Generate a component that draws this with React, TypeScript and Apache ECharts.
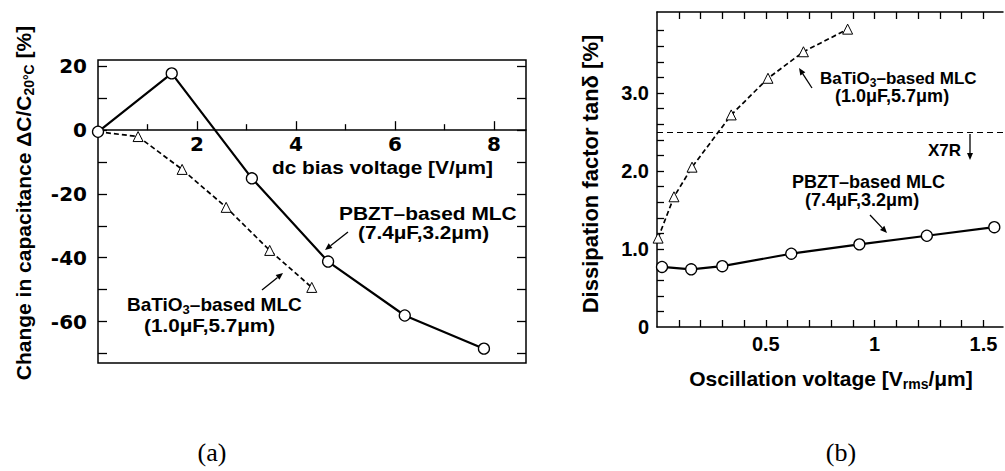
import { useEffect, useRef } from "react";
import * as echarts from "echarts";

// (a) capacitance change vs. dc bias field
const biasPbztX = [0, 1.49, 3.11, 4.65, 6.2, 7.8];
const biasPbztY = [-0.5, 17.8, -15.1, -41.2, -58.1, -68.5];
const biasBatX = [0, 0.81, 1.7, 2.59, 3.47, 4.32];
const biasBatY = [-0.5, -2.0, -12.3, -24.2, -37.7, -49.3];

// (b) dissipation factor vs. oscillation voltage
const oscPbztX = [0.023, 0.157, 0.3, 0.617, 0.93, 1.24, 1.55];
const oscPbztY = [0.77, 0.74, 0.78, 0.94, 1.06, 1.17, 1.28];
const oscBatX = [0.005, 0.078, 0.161, 0.341, 0.51, 0.673, 0.876];
const oscBatY = [1.14, 1.67, 2.05, 2.72, 3.19, 3.53, 3.82];
const x7rLimit = 2.5;

// axis ranges, ticks and labels
const capMin = -73;
const capMax = 22;
const biasMax = 8.65;
const biasMajorTicks = [2, 4, 6, 8];
const biasMinorTicks = [1, 3, 5, 7];
const capTicks = [-70, -60, -50, -40, -30, -20, -10, 0, 10, 20];
const capLabels = [-60, -40, -20, 0, 20];
const oscMax = 1.59;
const dfMax = 4.04;
const oscTicks = [0.1, 0.2, 0.3, 0.4, 0.5, 0.6, 0.7, 0.8, 0.9, 1.0, 1.1, 1.2, 1.3, 1.4, 1.5];
const oscLabels = [0.5, 1, 1.5];
const dfTicks = [0.2, 0.4, 0.6, 0.8, 1.0, 1.2, 1.4, 1.6, 1.8, 2.0, 2.2, 2.4, 2.6, 2.8, 3.0, 3.2, 3.4, 3.6, 3.8];
const dfLabels = [0, 1, 2, 3];

const SANS = "Liberation Sans";
const WIDE = "DejaVu Sans";
const SERIF = "Liberation Serif";

// plot frame of panel (a)
const gridA = { left: 98, top: 60, width: 428, height: 303 };
// the bias axis runs along capacitance change = 0, inside the frame
const zeroOffset = -gridA.height * ((0 - capMin) / (capMax - capMin));

const zip = (xs: number[], ys: number[]) => xs.map((x, i) => [x, ys[i]]);

function arrow(x1: number, y1: number, x2: number, y2: number) {
  const dx = x2 - x1;
  const dy = y2 - y1;
  const len = Math.hypot(dx, dy);
  const ux = dx / len;
  const uy = dy / len;
  const hl = 7;
  const hw = 3;
  const bx = x2 - ux * hl;
  const by = y2 - uy * hl;
  return [
    { type: "line", shape: { x1, y1, x2: bx, y2: by }, style: { stroke: "#000", lineWidth: 1.3 } },
    {
      type: "polygon",
      shape: { points: [[x2, y2], [bx - uy * hw, by + ux * hw], [bx + uy * hw, by - ux * hw]] },
      style: { fill: "#000" },
    },
  ];
}

function label(text: string, x: number, y: number, size: number, family: string, scaleX = 1, rich?: any) {
  return {
    type: "text",
    x,
    y,
    scaleX,
    style: {
      text,
      fontSize: size,
      fontWeight: "bold",
      fontFamily: family,
      fill: "#000",
      align: "left",
      verticalAlign: "middle",
      rich,
    },
  };
}

function subRich(size: number, family: string) {
  return {
    m: { fontSize: size, fontWeight: "bold", fontFamily: family, lineHeight: size + 4, verticalAlign: "middle" },
    s: { fontSize: Math.round(size * 0.68), fontWeight: "bold", fontFamily: family, verticalAlign: "bottom" },
  };
}

export default function App() {
  const ref = useRef<HTMLDivElement>(null);

  useEffect(() => {
    if (!ref.current) return;
    const chart = echarts.init(ref.current, null, { renderer: "svg" });

    const tickStyle = { color: "#000", width: 1.3 };

    const option: any = {
      animation: false,
      backgroundColor: "#fff",
      grid: [
        { ...gridA, show: true, borderColor: "#000", borderWidth: 1.5, backgroundColor: "transparent" },
        { left: 657, top: 12, width: 346, height: 315, show: false },
      ],
      xAxis: [
        {
          gridIndex: 0, type: "value", min: 0, max: biasMax, position: "bottom", offset: zeroOffset,
          axisLine: { show: true, onZero: false, lineStyle: { color: "#000", width: 1.5 } },
          axisTick: { show: true, inside: true, length: 9, customValues: biasMajorTicks, lineStyle: tickStyle },
          axisLabel: { show: true, customValues: biasMajorTicks, margin: 4, color: "#000", fontSize: 20, fontWeight: "bold", fontFamily: WIDE },
          splitLine: { show: false },
        },
        {
          gridIndex: 0, type: "value", min: 0, max: biasMax, position: "bottom", offset: zeroOffset,
          axisLine: { show: false, onZero: false },
          axisTick: { show: true, inside: true, length: 6, customValues: biasMinorTicks, lineStyle: tickStyle },
          axisLabel: { show: false },
          splitLine: { show: false },
        },
        {
          gridIndex: 1, type: "value", min: 0, max: oscMax, position: "bottom",
          axisLine: { show: true, onZero: false, lineStyle: { color: "#000", width: 1.5 } },
          axisTick: { show: true, inside: true, length: 7, customValues: oscTicks, lineStyle: tickStyle },
          axisLabel: { show: true, customValues: oscLabels, margin: 7, color: "#000", fontSize: 20, fontWeight: "bold", fontFamily: SANS },
          splitLine: { show: false },
        },
        {
          gridIndex: 1, type: "value", min: 0, max: oscMax, position: "top",
          axisLine: { show: true, onZero: false, lineStyle: { color: "#000", width: 1.5 } },
          axisTick: { show: true, inside: true, length: 7, customValues: oscTicks, lineStyle: tickStyle },
          axisLabel: { show: false },
          splitLine: { show: false },
        },
      ],
      yAxis: [
        {
          gridIndex: 0, type: "value", min: capMin, max: capMax, position: "left",
          axisLine: { show: false, onZero: false },
          axisTick: { show: true, inside: true, length: 9, customValues: capTicks, lineStyle: tickStyle },
          axisLabel: { show: true, customValues: capLabels, margin: 11, color: "#000", fontSize: 20, fontWeight: "bold", fontFamily: WIDE },
          splitLine: { show: false },
        },
        {
          gridIndex: 0, type: "value", min: capMin, max: capMax, position: "right",
          axisLine: { show: false, onZero: false },
          axisTick: { show: true, inside: true, length: 9, customValues: capTicks, lineStyle: tickStyle },
          axisLabel: { show: false },
          splitLine: { show: false },
        },
        {
          gridIndex: 1, type: "value", min: 0, max: dfMax, position: "left",
          axisLine: { show: true, onZero: false, lineStyle: { color: "#000", width: 1.5 } },
          axisTick: { show: true, inside: true, length: 7, customValues: dfTicks, lineStyle: tickStyle },
          axisLabel: {
            show: true, customValues: dfLabels, margin: 8, color: "#000", fontSize: 20, fontWeight: "bold", fontFamily: SANS,
            formatter: (v: number) => (v === 0 ? "0" : v.toFixed(1)),
          },
          splitLine: { show: false },
        },
      ],
      series: [
        {
          type: "line", xAxisIndex: 0, yAxisIndex: 0,
          data: zip(biasBatX, biasBatY).map((p, i) => (i === 0 ? { value: p, symbol: "none" } : p)),
          symbol: "triangle", symbolSize: 10, showAllSymbol: true,
          lineStyle: { color: "#000", width: 1.7, type: [5, 3] },
          itemStyle: { color: "#fff", borderColor: "#000", borderWidth: 1 },
        },
        {
          type: "line", xAxisIndex: 0, yAxisIndex: 0,
          data: zip(biasPbztX, biasPbztY),
          symbol: "circle", symbolSize: 11, showAllSymbol: true,
          lineStyle: { color: "#000", width: 2.2 },
          itemStyle: { color: "#fff", borderColor: "#000", borderWidth: 1.3 },
        },
        {
          type: "line", xAxisIndex: 2, yAxisIndex: 2,
          data: zip(oscBatX, oscBatY),
          symbol: "triangle", symbolSize: 10, showAllSymbol: true,
          lineStyle: { color: "#000", width: 1.7, type: [5, 3] },
          itemStyle: { color: "#fff", borderColor: "#000", borderWidth: 1 },
          markLine: {
            silent: true, symbol: ["none", "none"], label: { show: false },
            lineStyle: { color: "#000", width: 1.2, type: [6, 4] },
            data: [{ yAxis: x7rLimit }],
          },
        },
        {
          type: "line", xAxisIndex: 2, yAxisIndex: 2,
          data: zip(oscPbztX, oscPbztY),
          symbol: "circle", symbolSize: 11, showAllSymbol: true,
          lineStyle: { color: "#000", width: 2.2 },
          itemStyle: { color: "#fff", borderColor: "#000", borderWidth: 1.3 },
        },
      ],
      graphic: [
        // axis titles
        {
          type: "text", x: 23, y: 203, rotation: Math.PI / 2,
          style: {
            text: "{m|Change in capacitance ΔC/C}{s|20°C}{m| [%]}",
            rich: subRich(21, SANS), align: "center", verticalAlign: "middle", fill: "#000",
          },
        },
        label("dc bias voltage [V/μm]", 272, 168, 17.5, SANS, 1.19),
        {
          type: "text", x: 590, y: 174, rotation: Math.PI / 2,
          style: {
            text: "Dissipation factor tanδ [%]", fontSize: 22, fontWeight: "bold", fontFamily: SANS,
            align: "center", verticalAlign: "middle", fill: "#000",
          },
        },
        {
          type: "text", x: 831, y: 378,
          style: {
            text: "{m|Oscillation voltage [V}{s|rms}{m|/μm]}",
            rich: subRich(21, SANS), align: "center", verticalAlign: "middle", fill: "#000",
          },
        },
        // (a) annotations
        label("PBZT–based MLC", 339, 213, 19, SANS, 1.1),
        label("(7.4μF,3.2μm)", 358, 232, 19, SANS, 1.09),
        ...arrow(348, 232, 325, 250),
        label("{m|BaTiO}{s|3}{m|–based MLC}", 127, 304, 19, SANS, 1.0, subRich(19, SANS)),
        label("(1.0μF,5.7μm)", 144, 325, 19, SANS, 1.09),
        ...arrow(262, 290, 283, 273),
        // (b) annotations
        label("{m|BaTiO}{s|3}{m|–based MLC}", 820, 78, 17, SANS, 1.0, subRich(17, SANS)),
        label("(1.0μF,5.7μm)", 835, 96, 17.5, SANS, 1.03),
        ...arrow(812, 88, 799, 68),
        label("X7R", 928, 150, 17, SANS, 1.0),
        ...arrow(970, 134, 970, 160),
        label("PBZT–based MLC", 792, 182, 17.5, SANS, 1.03),
        label("(7.4μF,3.2μm)", 805, 200, 17.5, SANS, 1.03),
        ...arrow(870, 215, 887, 233),
        // panel captions
        {
          type: "text", x: 212, y: 452,
          style: { text: "(a)", fontSize: 26, fontFamily: SERIF, align: "center", verticalAlign: "middle", fill: "#000" },
        },
        {
          type: "text", x: 841, y: 452,
          style: { text: "(b)", fontSize: 26, fontFamily: SERIF, align: "center", verticalAlign: "middle", fill: "#000" },
        },
      ],
    };

    chart.setOption(option);
    return () => chart.dispose();
  }, []);

  return (
    <div
      ref={ref}
      style={{ position: "absolute", left: 0, top: 0, width: 1005, height: 471, background: "#fff" }}
    />
  );
}
